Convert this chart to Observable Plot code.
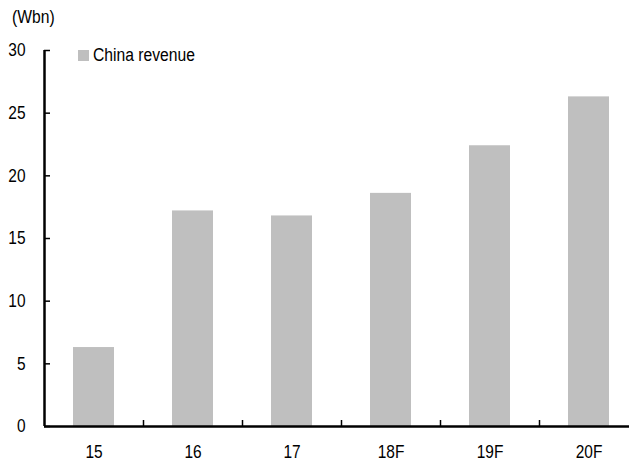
<!DOCTYPE html>
<html>
<head>
<meta charset="utf-8">
<script src="https://cdn.jsdelivr.net/npm/d3@7"></script>
<script src="https://cdn.jsdelivr.net/npm/@observablehq/plot@0.6"></script>
<style>
  html, body { margin: 0; padding: 0; background: #fff; }
  #wrap { position: relative; width: 629px; height: 461px; overflow: hidden;
    font-family: "Liberation Sans Narrow", "Arial Narrow", "Liberation Sans", Arial, sans-serif; }
  #unit { position: absolute; left: 12px; top: 6px; font-size: 18px; line-height: 22px; color: #000;
    transform: scaleX(0.87); transform-origin: left center; }
  #legend { position: absolute; left: 78px; top: 44px; display: flex; align-items: center; font-size: 18px; line-height: 22px; color: #000; }
  #legend .sw { width: 11px; height: 11px; background: #bfbfbf; margin-right: 4px; }
  #legend .lbl { display: inline-block; transform: scaleX(0.87); transform-origin: left center; }
</style>
</head>
<body>
<div id="wrap">
  <div id="chart"></div>
  <div id="unit">(Wbn)</div>
  <div id="legend"><span class="sw"></span><span class="lbl">China revenue</span></div>
</div>
<script>
const categories = ["15", "16", "17", "18F", "19F", "20F"];
const revenue = [6.3, 17.2, 16.8, 18.6, 22.4, 26.3];
const yTicks = [0, 5, 10, 15, 20, 25, 30];

const data = categories.map((c, i) => ({category: c, value: revenue[i]}));

const chart = Plot.plot({
  width: 629,
  height: 461,
  marginLeft: 44,
  marginRight: -9,
  marginTop: 50,
  marginBottom: 35,
  style: {
    fontFamily: '"Liberation Sans Narrow", "Arial Narrow", "Liberation Sans", Arial, sans-serif',
    fontSize: "18px",
    color: "#000",
    background: "#fff",
    overflow: "hidden"
  },
  x: {domain: categories, paddingInner: 0.585, paddingOuter: 0.2925},
  y: {domain: [0, 30]},
  marks: [
    Plot.barY(data, {x: "category", y: "value", fill: "#bfbfbf"}),
    // y labels
    Plot.axisY({ticks: yTicks, tickSize: 0, tickPadding: 19, label: null, fontSize: 18}),
    // y ticks pointing inward
    Plot.axisY({ticks: yTicks, tickSize: 6, tickFormat: () => "", label: null, dx: 6, strokeWidth: 1.5}),
    // x labels
    Plot.axisX({tickSize: 0, tickPadding: 19, label: null, fontSize: 18}),
    // x ticks between categories, pointing up
    Plot.axisX({ticks: categories.slice(0, 5), tickSize: 6, tickFormat: () => "", label: null, dx: 49.5, dy: -6, strokeWidth: 1.5}),
    // y axis line at the left edge of the first band
    Plot.ruleX([categories[0]], {y1: 0, y2: 30, dx: -49.5, stroke: "#000", strokeWidth: 2.5}),
    Plot.ruleY([0], {stroke: "#000", strokeWidth: 2.5})
  ]
});
// narrow the tick label glyphs around their anchor point
chart.querySelectorAll("text").forEach(t => {
  const tr = t.getAttribute("transform") || "";
  t.setAttribute("transform", (tr + " scale(0.86,1)").trim());
});
document.getElementById("chart").appendChild(chart);
</script>
</body>
</html>
